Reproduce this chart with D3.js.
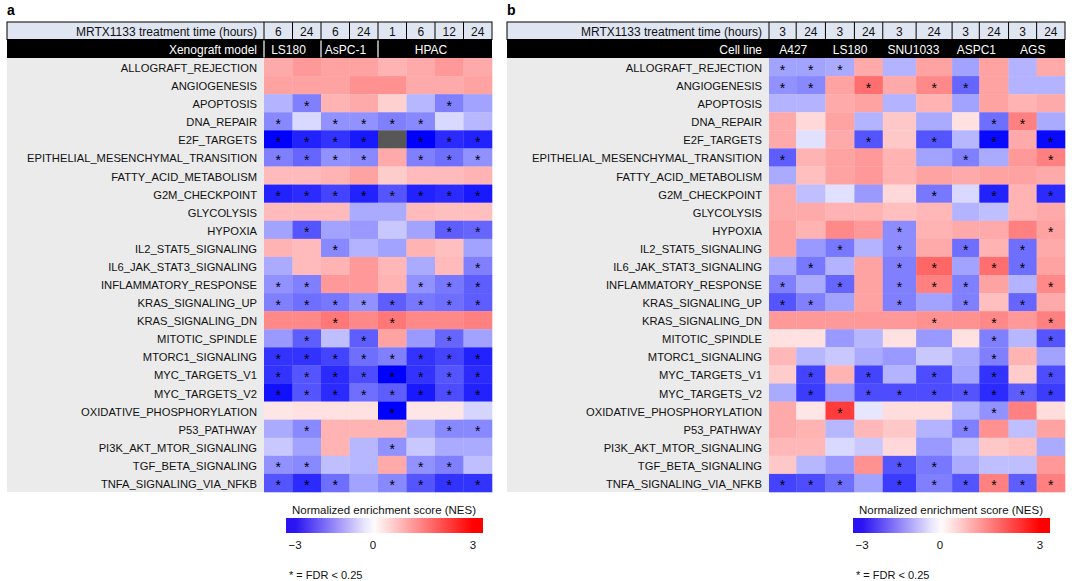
<!DOCTYPE html>
<html>
<head>
<meta charset="utf-8">
<script src="https://cdn.jsdelivr.net/npm/d3@7"></script>
<style>
  body { margin: 0; background: #fff; }
  text { font-family: "Liberation Sans", Arial, Helvetica, sans-serif; }
</style>
</head>
<body>
<div id="chart"></div>
<script>
// ---- data ----
const pathways = [
  "ALLOGRAFT_REJECTION", "ANGIOGENESIS", "APOPTOSIS", "DNA_REPAIR", "E2F_TARGETS",
  "EPITHELIAL_MESENCHYMAL_TRANSITION", "FATTY_ACID_METABOLISM", "G2M_CHECKPOINT",
  "GLYCOLYSIS", "HYPOXIA", "IL2_STAT5_SIGNALING", "IL6_JAK_STAT3_SIGNALING",
  "INFLAMMATORY_RESPONSE", "KRAS_SIGNALING_UP", "KRAS_SIGNALING_DN", "MITOTIC_SPINDLE",
  "MTORC1_SIGNALING", "MYC_TARGETS_V1", "MYC_TARGETS_V2", "OXIDATIVE_PHOSPHORYLATION",
  "P53_PATHWAY", "PI3K_AKT_MTOR_SIGNALING", "TGF_BETA_SIGNALING", "TNFA_SIGNALING_VIA_NFKB"
];

// panel a: xenograft models
const timesA = ["6", "24", "6", "24", "1", "6", "12", "24"];
const modelsA = ["LS180", "LS180", "AsPC-1", "AsPC-1", "HPAC", "HPAC", "HPAC", "HPAC"];
const nesA = [
  [1.0, 1.2, 1.1, 1.1, 0.9, 1.0, 1.2, 1.0],
  [1.1, 1.1, 1.1, 1.3, 1.3, 1.0, 1.0, 1.1],
  [-0.9, -1.5, 0.9, 1.0, 0.55, -0.85, -1.5, -1.1],
  [-1.4, -0.45, -1.3, -1.3, -1.5, -1.4, -0.45, -0.85],
  [-3.0, -2.6, -2.4, -2.7, null, -3.0, -2.5, -2.6],
  [-1.5, -1.8, -1.3, -1.4, 1.0, -1.5, -1.7, -1.3],
  [0.8, 0.8, 0.9, 1.1, 0.6, 0.8, 0.8, 0.9],
  [-2.6, -2.5, -2.2, -2.6, -2.0, -2.6, -2.5, -2.7],
  [0.8, 0.8, 0.8, -1.0, -1.0, 0.8, 0.75, 0.75],
  [-1.1, -2.0, -1.1, -1.2, -0.65, -1.1, -1.9, -1.8],
  [0.9, 0.8, -1.4, -0.9, -1.1, 0.9, 0.75, -1.1],
  [-1.0, 0.8, 0.9, 1.2, 0.85, -1.0, 0.8, -1.5],
  [-1.3, -1.5, 1.2, 1.2, 0.9, -1.3, -1.6, -1.9],
  [-1.5, -1.7, -1.6, -1.3, -1.9, -1.6, -1.7, -1.9],
  [1.4, 1.4, 1.6, 1.4, 1.6, 1.4, 1.4, 1.5],
  [-1.2, -1.9, -0.75, -1.9, 1.1, -1.2, -1.8, -1.1],
  [-2.4, -2.4, -2.2, -1.7, -1.5, -2.4, -2.2, -2.6],
  [-2.4, -2.0, -2.5, -2.1, -3.0, -2.4, -2.0, -2.5],
  [-2.8, -2.0, -2.5, -1.7, -1.9, -2.7, -2.1, -2.6],
  [0.3, 0.35, 0.35, 0.35, -3.0, 0.3, 0.3, -0.5],
  [-1.0, -1.4, 0.9, 0.9, 0.9, -1.0, -1.4, -1.4],
  [-0.65, -1.1, 0.9, -0.85, -1.3, -0.65, -1.0, -1.0],
  [-1.3, -1.4, -0.75, -0.85, 1.0, -1.3, -1.5, -0.75],
  [-2.0, -2.5, -1.7, -1.1, -1.4, -2.0, -2.4, -2.4]
];
const fdrA = [
  "00000000", "00000000", "01000010", "10111100", "11110111", "11110111",
  "00000000", "11111111", "00000000", "01000011", "00100000", "00000001",
  "11000111", "11111111", "00101000", "01010010", "11111111", "11111111",
  "11111111", "00001000", "01000011", "00001000", "11000110", "11101111"
];

// panel b: cell lines
const timesB = ["3", "24", "3", "24", "3", "24", "3", "24", "3", "24"];
const linesB = ["A427", "A427", "LS180", "LS180", "SNU1033", "SNU1033", "ASPC1", "ASPC1", "AGS", "AGS"];
const nesB = [
  [-1.1, -1.1, -1.0, 1.0, -0.9, 1.1, -1.1, 1.1, -0.9, 1.0],
  [-1.3, -1.4, 1.1, 1.7, 1.0, 1.4, -1.8, 1.1, -0.9, -0.9],
  [-0.9, -0.9, 1.0, 1.1, -0.9, 0.9, -1.1, 1.1, 0.9, 1.0],
  [1.0, 0.45, 1.1, -0.9, 0.65, -1.0, 0.35, -1.7, 1.5, -1.0],
  [1.0, -0.35, 1.0, -2.0, 0.65, -2.0, -0.85, -2.9, 1.0, -2.9],
  [-1.9, 0.9, 1.1, 1.2, 0.9, -1.1, -1.5, -1.0, 1.2, 1.5],
  [-1.0, 0.75, 1.1, 1.2, 0.9, 1.1, 1.0, 1.1, 1.1, 1.0],
  [1.0, -0.75, -0.35, -1.2, 0.45, -1.6, -0.45, -2.6, 0.9, -2.5],
  [1.0, 1.0, 0.9, 0.9, 0.75, 0.85, -0.9, -0.75, 0.9, 1.0],
  [1.1, 0.9, 1.4, 1.2, -1.35, 0.9, 1.0, 1.0, 1.5, 1.1],
  [1.1, -1.2, -1.6, -0.9, -1.35, 1.0, -1.7, 0.9, -1.7, 1.0],
  [-1.0, -1.6, -0.9, 1.1, -1.5, 1.8, -1.1, 1.7, -1.7, 1.1],
  [-1.5, -1.0, -1.8, 1.1, -1.5, 1.5, -1.5, 1.1, -0.9, 1.4],
  [-2.0, -1.5, -1.1, 1.1, -1.5, -1.1, -1.5, 0.75, -1.8, 1.0],
  [1.2, 1.2, 1.2, 1.2, 1.2, 1.3, 1.3, 1.4, 1.2, 1.5],
  [0.35, 0.35, -1.2, -0.85, 0.35, -1.2, 0.35, -1.5, -0.85, -2.0],
  [0.85, -0.85, -0.65, -1.0, -1.2, -0.65, -1.0, -1.5, 0.9, -1.1],
  [0.6, -2.2, 0.9, -2.2, -0.9, -2.1, -1.1, -2.4, 0.6, -2.1],
  [-1.0, -2.3, -1.2, -2.1, -2.1, -2.1, -2.0, -2.5, -1.9, -2.3],
  [1.0, 0.3, 2.3, -0.3, 0.4, 0.4, -0.9, -1.3, 1.5, 0.4],
  [1.0, 0.9, -0.85, 0.85, 0.65, -0.9, -1.5, 1.3, -0.75, 1.1],
  [0.85, 0.85, -0.45, -0.65, 0.45, -1.2, -0.75, 0.65, 0.75, -1.0],
  [0.65, -0.85, -1.2, 1.3, -2.0, -1.6, -1.0, -0.75, -0.75, 1.2],
  [-2.2, -2.1, -1.7, -1.1, -2.3, -1.5, -2.0, 1.5, -1.9, 1.5]
];
const fdrB = [
  "1110000000", "1101011000", "0000000000", "0000000110", "0001010101", "1000001001",
  "0000000000", "0000010101", "0000000000", "0000100001", "0010101010", "0100110110",
  "1010111001", "1100101010", "0000010101", "0000000101", "0000000100", "0101010101",
  "0101111111", "0010000100", "0000001000", "0000000000", "0000110000", "1110111111"
];

const legendTicks = [-3, 0, 3];

// ---- layout ----
const W = 1076, H = 581;
const headTop = 22, headMid = 39.5, headBot = 58, gridBot = 492;

const svg = d3.select("#chart").append("svg")
  .attr("width", W).attr("height", H);
svg.append("rect").attr("width", W).attr("height", H).attr("fill", "#fff");

const color = d3.scaleLinear()
  .domain([-3, 0, 3])
  .range(["#0000ff", "#ffffff", "#ff0000"])
  .clamp(true);

function drawPanel(p) {
  const g = svg.append("g");

  // column positions (panel b has uneven column widths)
  const cum = [0];
  p.widths.forEach(w => cum.push(cum[cum.length - 1] + w));
  const xs = d3.scaleLinear().domain([0, cum[cum.length - 1]]).range([p.x1, p.x2]);
  const colX = i => xs(cum[i]);
  const colW = i => xs(cum[i + 1]) - xs(cum[i]);

  const y = d3.scaleBand().domain(pathways).range([headBot, gridBot]);

  // panel letter
  g.append("text").attr("x", p.x0).attr("y", 15)
    .attr("font-size", 14).attr("font-weight", "bold").text(p.letter);

  // label background
  g.append("rect").attr("x", p.x0).attr("y", headBot)
    .attr("width", p.x1 - p.x0).attr("height", gridBot - headBot)
    .attr("fill", "#ebebeb");

  // row labels
  g.selectAll(".rowlab").data(pathways).enter().append("text")
    .attr("x", p.x1 - 7)
    .attr("y", d => y(d) + y.bandwidth() / 2 + 5)
    .attr("text-anchor", "end")
    .attr("font-size", 11.2)
    .attr("fill", "#111")
    .text(d => d);

  // heatmap cells
  const cells = [];
  p.nes.forEach((row, r) => row.forEach((v, c) => {
    cells.push({ r, c, v, sig: p.fdr[r][c] === "1" });
  }));

  g.selectAll(".cell").data(cells).enter().append("rect")
    .attr("x", d => colX(d.c))
    .attr("y", d => y(pathways[d.r]))
    .attr("width", d => colW(d.c) + 0.3)
    .attr("height", y.bandwidth() + 0.3)
    .attr("fill", d => d.v === null ? "#575757" : color(d.v));

  g.selectAll(".star").data(cells.filter(d => d.sig)).enter().append("text")
    .attr("x", d => colX(d.c) + colW(d.c) / 2)
    .attr("y", d => y(pathways[d.r]) + y.bandwidth() / 2 + 7.5)
    .attr("text-anchor", "middle")
    .attr("font-size", 14)
    .attr("fill", "#000")
    .text("*");

  // header: treatment time row
  g.append("rect").attr("x", p.x0).attr("y", headTop)
    .attr("width", p.x2 - p.x0).attr("height", headMid - headTop)
    .attr("fill", "#dfe5f1").attr("stroke", "#000").attr("stroke-width", 1);
  g.append("text").attr("x", p.x1 - 7).attr("y", headMid - 4)
    .attr("text-anchor", "end").attr("font-size", 12).attr("fill", "#111")
    .text("MRTX1133 treatment time (hours)");
  g.selectAll(".vsep").data(d3.range(p.times.length)).enter().append("line")
    .attr("x1", i => colX(i)).attr("x2", i => colX(i))
    .attr("y1", headTop).attr("y2", headMid)
    .attr("stroke", "#000").attr("stroke-width", 1);
  g.selectAll(".time").data(p.times).enter().append("text")
    .attr("x", (d, i) => colX(i) + colW(i) / 2)
    .attr("y", headMid - 4)
    .attr("text-anchor", "middle").attr("font-size", 12).attr("fill", "#111")
    .text(d => d);

  // header: model / cell line row
  g.append("rect").attr("x", p.x0).attr("y", headMid)
    .attr("width", p.x2 - p.x0).attr("height", headBot - headMid)
    .attr("fill", "#000");
  g.append("text").attr("x", p.x1 - 7).attr("y", headBot - 4.5)
    .attr("text-anchor", "end").attr("font-size", 12).attr("fill", "#fff")
    .text(p.groupTitle);

  const spans = [];
  p.groups.forEach((name, i) => {
    const last = spans[spans.length - 1];
    if (last && last.name === name) last.end = i + 1;
    else spans.push({ name, start: i, end: i + 1 });
  });
  g.selectAll(".grp").data(spans).enter().append("text")
    .attr("x", d => (colX(d.start) + colX(d.end)) / 2 - 4)
    .attr("y", headBot - 4.5)
    .attr("text-anchor", "middle").attr("font-size", 12).attr("fill", "#fff")
    .text(d => d.name);

  if (p.groupSeparators) {
    g.selectAll(".gsep").data(spans).enter().append("line")
      .attr("x1", d => colX(d.start)).attr("x2", d => colX(d.start))
      .attr("y1", headMid + 1).attr("y2", headBot - 0.5)
      .attr("stroke", "#fff").attr("stroke-width", 1.2);
  }

  // legend
  const lx = d3.scaleLinear().domain([-3, 0, 3])
    .range([p.legendX + 9, p.legendX + 87, p.legendX + 187]);
  const barW = 197;
  const grad = svg.append("defs").append("linearGradient")
    .attr("id", "grad" + p.letter).attr("x1", "0%").attr("x2", "100%");
  d3.range(0, 1.0001, 0.05).forEach(t => {
    const v = lx.invert(p.legendX + t * barW);
    grad.append("stop").attr("offset", (t * 100) + "%")
      .attr("stop-color", v < 0 ? d3.interpolateRgb("#ffffff", "#2a12f2")(Math.min(1, -v / 3))
                                : color(v));
  });
  g.append("text").attr("x", p.legendX + 98).attr("y", 514)
    .attr("text-anchor", "middle").attr("font-size", 11.5).attr("fill", "#111")
    .text("Normalized enrichment score (NES)");
  g.append("rect").attr("x", p.legendX).attr("y", 518)
    .attr("width", barW).attr("height", 15)
    .attr("fill", "url(#grad" + p.letter + ")");
  g.selectAll(".ltick").data(legendTicks).enter().append("text")
    .attr("x", d => lx(d)).attr("y", 549)
    .attr("text-anchor", "middle").attr("font-size", 11.5).attr("fill", "#111")
    .text(d => d < 0 ? "\u2212" + Math.abs(d) : d);
  g.append("text").attr("x", p.legendX + 3).attr("y", 579)
    .attr("font-size", 11).attr("fill", "#111")
    .text("* = FDR < 0.25");
}

drawPanel({
  letter: "a", x0: 7, x1: 264, x2: 492,
  widths: timesA.map(() => 1),
  times: timesA, groups: modelsA, groupTitle: "Xenograft model",
  groupSeparators: true,
  nes: nesA, fdr: fdrA, legendX: 286
});

drawPanel({
  letter: "b", x0: 507, x1: 769, x2: 1065,
  widths: [0.93, 1, 0.99, 0.97, 1.14, 1.23, 0.93, 1, 0.96, 0.97],
  times: timesB, groups: linesB, groupTitle: "Cell line",
  groupSeparators: false,
  nes: nesB, fdr: fdrB, legendX: 853
});
</script>
</body>
</html>
